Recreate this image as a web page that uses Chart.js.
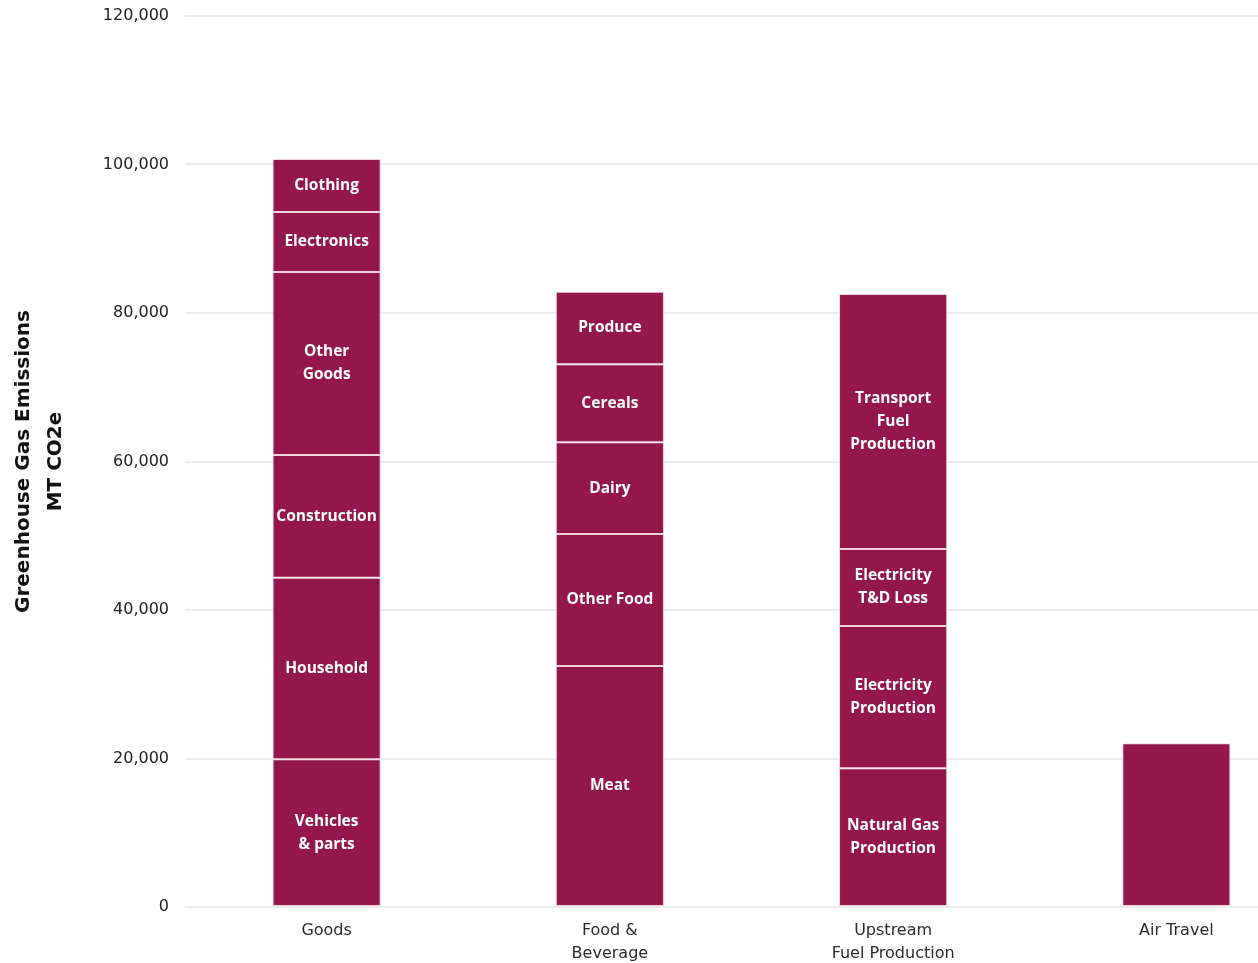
<!DOCTYPE html>
<html>
<head>
<meta charset="utf-8">
<script src="https://cdn.jsdelivr.net/npm/chart.js@4.4.1/dist/chart.umd.min.js"></script>
<style>
  html, body { margin: 0; padding: 0; overflow: hidden; background: #ffffff; }
  #wrap { width: 1318px; height: 963px; }
</style>
</head>
<body>
<div id="wrap"><canvas id="c" width="1318" height="963"></canvas></div>
<script>
// Emission categories along the x axis
const categories = ['Goods', ['Food &', 'Beverage'], ['Upstream', 'Fuel Production'], 'Air Travel'];

// Stacked components per category, listed bottom to top (MT CO2e)
const goodsParts  = [['Vehicles', '& parts'], ['Household'], ['Construction'], ['Other', 'Goods'], ['Electronics'], ['Clothing']];
const goodsValues = [19900, 24450, 16520, 24650, 8080, 7150];

const foodParts  = [['Meat'], ['Other Food'], ['Dairy'], ['Cereals'], ['Produce']];
const foodValues = [32460, 17780, 12350, 10500, 9780];

const fuelParts  = [['Natural Gas', 'Production'], ['Electricity', 'Production'], ['Electricity', 'T&D Loss'], ['Transport', 'Fuel', 'Production']];
const fuelValues = [18680, 19165, 10370, 34345];

const airParts  = [[]];
const airValues = [22050];

// Value axis ticks
const yTicks = [0, 20000, 40000, 60000, 80000, 100000, 120000];

const BAR = '#93174b';
const EDGE = '#efd3df';

const partsByCat  = [goodsParts, foodParts, fuelParts, airParts];
const valuesByCat = [goodsValues, foodValues, fuelValues, airValues];
const levels = Math.max(...valuesByCat.map(v => v.length));

// One dataset per stack level, so each category can carry its own components
const datasets = [];
for (let i = 0; i < levels; i++) {
  datasets.push({
    label: 'level ' + (i + 1),
    data: valuesByCat.map(v => (i < v.length ? v[i] : null)),
    parts: partsByCat.map(p => (i < p.length ? p[i] : [])),
    backgroundColor: BAR,
    borderColor: EDGE,
    borderWidth: 1,
    borderSkipped: false,
    categoryPercentage: 1,
    barPercentage: 0.382,
    stack: 's'
  });
}

// Writes each component's name centred inside its segment
const segmentLabels = {
  id: 'segmentLabels',
  afterDatasetsDraw(chart) {
    const ctx = chart.ctx;
    ctx.save();
    ctx.fillStyle = '#ffffff';
    ctx.font = 'bold 15.5px "Open Sans"';
    ctx.textAlign = 'center';
    ctx.textBaseline = 'middle';
    const lh = 23;
    chart.data.datasets.forEach((ds, di) => {
      const meta = chart.getDatasetMeta(di);
      meta.data.forEach((el, j) => {
        const lines = ds.parts[j];
        if (!lines || !lines.length || ds.data[j] == null) return;
        const cy = (el.y + el.base) / 2;
        const y0 = cy - (lines.length - 1) * lh / 2;
        lines.forEach((t, k) => ctx.fillText(t, el.x, y0 + k * lh));
      });
    });
    ctx.restore();
  }
};

new Chart(document.getElementById('c'), {
  type: 'bar',
  data: { labels: categories, datasets },
  plugins: [segmentLabels],
  options: {
    responsive: false,
    animation: false,
    layout: { padding: { top: 16, right: 0, bottom: 0, left: 0 } },
    plugins: { legend: { display: false }, tooltip: { enabled: false } },
    scales: {
      x: {
        stacked: true,
        grid: { display: false, drawTicks: false },
        border: { display: false },
        ticks: {
          color: '#2b2b2b',
          font: { family: '"DejaVu Sans"', size: 16, lineHeight: 1.4375 },
          padding: 12,
          maxRotation: 0,
          autoSkip: false
        },
        afterFit(scale) { scale.height = 56; }
      },
      y: {
        stacked: true,
        min: 0,
        max: 120000,
        afterBuildTicks(scale) { scale.ticks = yTicks.map(v => ({ value: v })); },
        grid: { color: '#ececec', lineWidth: 2, drawTicks: false },
        border: { display: false },
        ticks: {
          color: '#222222',
          font: { family: '"DejaVu Sans"', size: 16 },
          padding: 16,
          callback: v => v.toLocaleString('en-US')
        },
        title: {
          display: true,
          text: ['Greenhouse Gas Emissions', 'MT CO2e'],
          color: '#111111',
          font: { family: '"DejaVu Sans"', size: 20, weight: 'bold', lineHeight: 1.6 },
          padding: { top: 8, bottom: 0 }
        },
        afterFit(scale) {
          scale.width = 185;
          scale.paddingTop = 0;
          scale.paddingBottom = 0;
        }
      }
    }
  }
});
</script>
</body>
</html>
